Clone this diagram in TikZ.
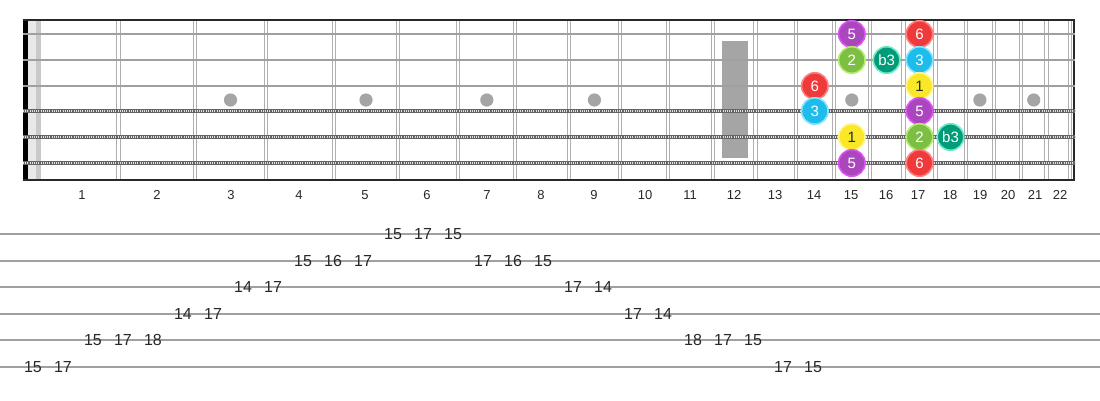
\documentclass[tikz,border=0pt]{standalone}
\usepackage{fontspec}
\setmainfont{Liberation Sans}
\definecolor{frame}{RGB}{40,40,40}
\definecolor{fretc}{RGB}{175,175,175}
\definecolor{plainc}{RGB}{160,160,160}
\definecolor{woundc}{RGB}{100,100,100}
\definecolor{inlayc}{RGB}{165,165,165}
\definecolor{tabc}{RGB}{160,160,160}
\definecolor{txt}{RGB}{40,40,40}
\definecolor{purF}{RGB}{171,71,188}
\definecolor{purD}{RGB}{224,80,250}
\definecolor{grnF}{RGB}{124,191,66}
\definecolor{grnD}{RGB}{180,236,112}
\definecolor{teaF}{RGB}{0,155,120}
\definecolor{teaD}{RGB}{105,235,200}
\definecolor{redF}{RGB}{238,58,58}
\definecolor{redD}{RGB}{255,128,128}
\definecolor{cyaF}{RGB}{30,188,235}
\definecolor{cyaD}{RGB}{135,228,255}
\definecolor{yelF}{RGB}{250,232,40}
\definecolor{yelD}{RGB}{255,246,150}
\begin{document}
\begin{tikzpicture}[x=1pt,y=-1pt,
  fretline/.style={draw=fretc,line width=1.0pt},
  plainstr/.style={draw=plainc,line width=2.6pt},
  woundstr/.style={draw=woundc,line width=3.6pt},
  woundhatch/.style={draw=white!88!black,line width=1.4pt,dash pattern=on 0.9pt off 1.3pt},
  fretnum/.style={font=\fontsize{13}{15}\selectfont,text=txt,inner sep=0pt},
  tabnum/.style={font=\fontsize{16}{18}\selectfont,text=txt,inner sep=0pt},
  note/.style={circle,minimum size=26.5pt,inner sep=0pt,line width=1.6pt,font=\fontsize{15}{15}\selectfont,text=white},
  nP/.style={note,fill=purF,draw=purD},
  nG/.style={note,fill=grnF,draw=grnD},
  nT/.style={note,fill=teaF,draw=teaD},
  nR/.style={note,fill=redF,draw=redD},
  nC/.style={note,fill=cyaF,draw=cyaD},
  nY/.style={note,fill=yelF,draw=yelD,text=txt}]
\useasboundingbox (0,0) rectangle (1100,400);
\fill[white] (0,0) rectangle (1100,400);
% nut area
\fill[gray!18] (28,20) rectangle (36,180);
\fill[gray!42] (36,20) rectangle (41,180);
\fill[black] (23,20) rectangle (28,180);
% frets
\foreach \x in {118.5,194.6,266.3,334.0,398.0,458.3,515.3,569.0,619.7,667.6,712.8,755.5,795.8,833.8,869.7,903.5,935.5,965.6,994.1,1021.0,1046.4,1070.3}{
  \draw[fretline] (\x-1.6,20) -- (\x-1.6,180);
  \draw[fretline] (\x+1.6,20) -- (\x+1.6,180);
}
% inlays
\fill[inlayc] (722,41) rectangle (748,157.5);
\foreach \x in {230.5,366,486.8,594.4,851.8,919.5,979.9,1033.7}
  \fill[inlayc] (\x,100) circle (6.6);
% frame
\draw[frame,line width=2pt] (23,20) -- (1074,20);
\draw[frame,line width=2pt] (23,180) -- (1074,180);
\draw[frame,line width=2pt] (1073.5,19) -- (1073.5,181);
% strings
\foreach \y in {34,60,86}
  \draw[plainstr] (23,\y) -- (1075,\y);
\foreach \y in {111,137,163}{
  \draw[woundstr] (23,\y) -- (1075,\y);
  \draw[woundhatch] (23,\y) -- (1075,\y);
}
% fret numbers
\foreach \n/\x in {1/82,2/157,3/231,4/299,5/365,6/427,7/487,8/541,9/594,10/645,11/690,12/734,13/775,14/814,15/851,16/886,17/918,18/950,19/980,20/1008,21/1035,22/1060}
  \node[fretnum] (f\n) at (\x,195) {\n};
% notes
\node[nP] (a1) at (851.8,34) {5};
\node[nR] (a2) at (919.5,34) {6};
\node[nG] (b1) at (851.8,60) {2};
\node[nT] (b2) at (886.6,60) {b3};
\node[nC] (b3) at (919.5,60) {3};
\node[nR] (c1) at (814.8,86) {6};
\node[nY] (c2) at (919.5,86) {1};
\node[nC] (d1) at (814.8,111) {3};
\node[nP] (d2) at (919.5,111) {5};
\node[nY] (e1) at (851.8,137) {1};
\node[nG] (e2) at (919.5,137) {2};
\node[nT] (e3) at (950.5,137) {b3};
\node[nP] (g1) at (851.8,163) {5};
\node[nR] (g2) at (919.5,163) {6};
% tab lines
\foreach \i/\y in {1/234,2/260.6,3/287.2,4/313.8,5/340.4,6/367}
  \draw[draw=tabc,line width=2pt] (0,\y) -- (1100,\y);
% tab numbers
\foreach \k/\s/\v in {0/6/15,1/6/17,2/5/15,3/5/17,4/5/18,5/4/14,6/4/17,7/3/14,8/3/17,9/2/15,10/2/16,11/2/17,12/1/15,13/1/17,14/1/15,15/2/17,16/2/16,17/2/15,18/3/17,19/3/14,20/4/17,21/4/14,22/5/18,23/5/17,24/5/15,25/6/17,26/6/15}
  \node[tabnum] (t\k) at ({33+30*\k},{234+26.6*(\s-1)}) {\v};
\end{tikzpicture}
\end{document}
